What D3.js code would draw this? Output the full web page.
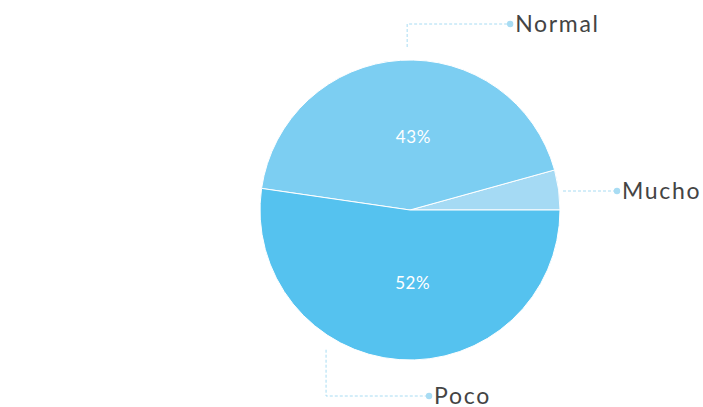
<!DOCTYPE html>
<html>
<head>
<meta charset="utf-8">
<script src="https://cdn.jsdelivr.net/npm/d3@7.9.0/dist/d3.min.js"></script>
<style>
  html, body { margin: 0; padding: 0; background: #fff; }
  svg { display: block; font-family: Lato, "Noto Sans", sans-serif; }
</style>
</head>
<body>
<svg id="chart" width="703" height="407"></svg>
<script>
const categories = ['Mucho', 'Normal', 'Poco'];
const values = [4.3, 43.4, 52.3];
const colors = ['#a5daf4', '#7ccef2', '#55c2ef'];

// where each outside label's leader starts (degrees, ccw from 3 o'clock) and its label row
const labelAngles = [7, 91, 239];
const labelRows = [191, 24, 396];

const cx = 410, cy = 210, radius = 150;

const svg = d3.select('#chart');
const g = svg.append('g').attr('transform', `translate(${cx},${cy})`);

const data = categories.map((c, i) => ({ label: c, value: values[i], color: colors[i] }));

// start at 3 o'clock and sweep counter-clockwise
const pie = d3.pie()
  .value((d) => d.value)
  .sort(null)
  .startAngle(Math.PI / 2)
  .endAngle(Math.PI / 2 - 2 * Math.PI);

const arc = d3.arc().innerRadius(0).outerRadius(radius);
const labelArc = d3.arc().innerRadius(73).outerRadius(73);

const arcs = pie(data);
const total = d3.sum(values);

g.selectAll('path.slice')
  .data(arcs)
  .join('path')
  .attr('class', 'slice')
  .attr('d', arc)
  .attr('fill', (d) => d.data.color)
  .attr('stroke', '#fff')
  .attr('stroke-width', 1);

// percentage labels for big slices
g.selectAll('text.pct')
  .data(arcs.filter((d) => d.value / total > 0.1))
  .join('text')
  .attr('class', 'pct')
  .attr('transform', (d) => {
    const [x, y] = labelArc.centroid(d);
    return `translate(${x + 8},${y})`;
  })
  .attr('text-anchor', 'middle')
  .attr('dy', '0.35em')
  .attr('fill', '#fff')
  .attr('font-size', 17)
  .attr('letter-spacing', 0.6)
  .text((d) => `${Math.round(d.value / total * 100)}%`);

// leader lines
const lineColor = '#a8dcf3';
const leaderR = 163;
const elbowLen = 103;

arcs.forEach((d, i) => {
  const a = labelAngles[i] * Math.PI / 180;
  const sx = leaderR * Math.cos(a);
  const sy = -leaderR * Math.sin(a);
  const rowY = labelRows[i] - cy;
  let pts;
  if (Math.abs(labelAngles[i]) < 30) {
    const x0 = radius + 3;
    pts = [[x0, rowY], [x0 + 54, rowY]];
  } else {
    pts = [[sx, sy], [sx, rowY], [sx + elbowLen, rowY]];
  }
  g.append('path')
    .attr('d', d3.line()(pts))
    .attr('fill', 'none')
    .attr('stroke', lineColor)
    .attr('stroke-width', 1)
    .attr('stroke-dasharray', '3,2');
  const end = pts[pts.length - 1];
  g.append('circle')
    .attr('cx', end[0])
    .attr('cy', end[1])
    .attr('r', 3.2)
    .attr('fill', lineColor);
  g.append('text')
    .attr('x', end[0] + 5)
    .attr('y', end[1])
    .attr('dy', '0.36em')
    .attr('fill', '#444')
    .attr('font-size', 23)
    .attr('letter-spacing', 1.7)
    .text(d.data.label);
});
</script>
</body>
</html>
